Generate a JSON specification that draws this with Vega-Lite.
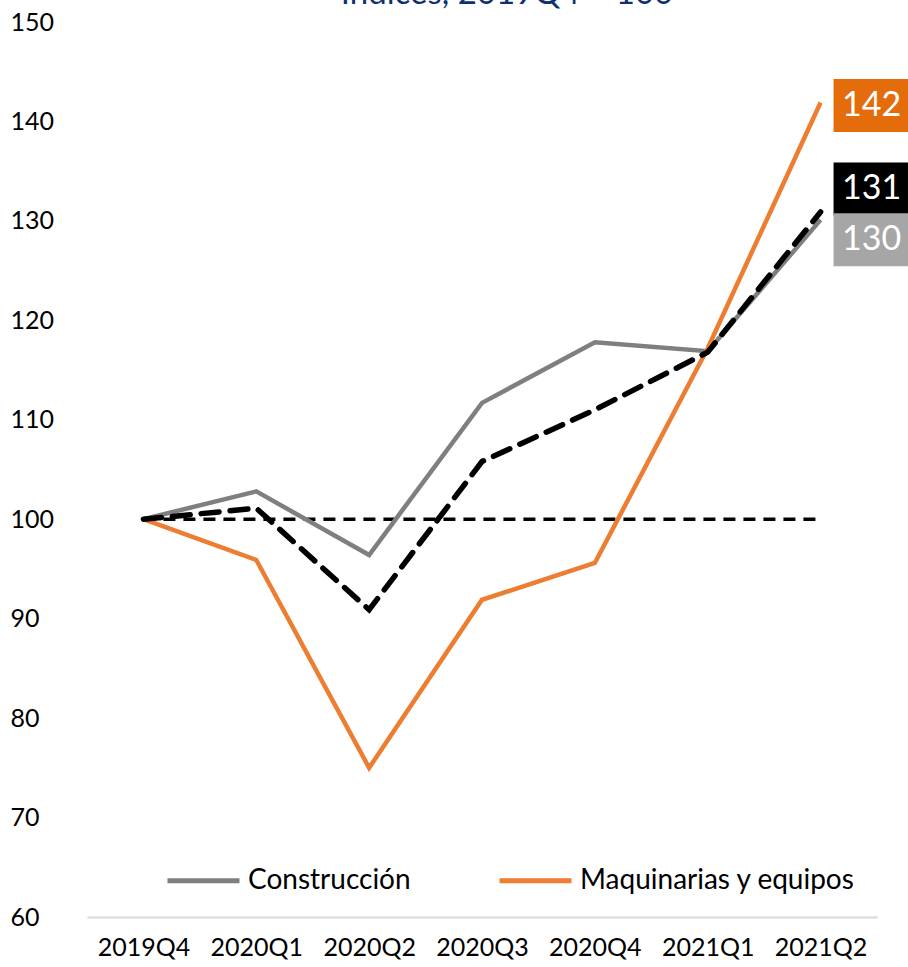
{
  "$schema": "https://vega.github.io/schema/vega-lite/v6.json",
  "width": 790,
  "height": 895,
  "autosize": {"type": "none"},
  "padding": {"left": 87, "top": 22, "right": 31, "bottom": 50},
  "background": "white",
  "config": {"view": {"stroke": null}, "font": "Lato"},
  "title": {"text": "Índices, 2019Q4 = 100", "fontSize": 33, "font": "Lato", "fontWeight": "normal", "color": "#10306e", "anchor": "middle", "dx": 25, "offset": 0, "dy": 27, "baseline": "alphabetic"},
  "datasets": {
    "series": [
      {"q": "2019Q4", "serie": "Construcción", "v": 100},
      {"q": "2020Q1", "serie": "Construcción", "v": 102.8},
      {"q": "2020Q2", "serie": "Construcción", "v": 96.4},
      {"q": "2020Q3", "serie": "Construcción", "v": 111.7},
      {"q": "2020Q4", "serie": "Construcción", "v": 117.8},
      {"q": "2021Q1", "serie": "Construcción", "v": 116.9},
      {"q": "2021Q2", "serie": "Construcción", "v": 130.1},
      {"q": "2019Q4", "serie": "Maquinarias y equipos", "v": 100},
      {"q": "2020Q1", "serie": "Maquinarias y equipos", "v": 95.9},
      {"q": "2020Q2", "serie": "Maquinarias y equipos", "v": 75},
      {"q": "2020Q3", "serie": "Maquinarias y equipos", "v": 91.9},
      {"q": "2020Q4", "serie": "Maquinarias y equipos", "v": 95.6},
      {"q": "2021Q1", "serie": "Maquinarias y equipos", "v": 117.2},
      {"q": "2021Q2", "serie": "Maquinarias y equipos", "v": 141.9}
    ],
    "total": [
      {"q": "2019Q4", "v": 100},
      {"q": "2020Q1", "v": 101.1},
      {"q": "2020Q2", "v": 90.9},
      {"q": "2020Q3", "v": 105.8},
      {"q": "2020Q4", "v": 111.0},
      {"q": "2021Q1", "v": 116.8},
      {"q": "2021Q2", "v": 130.9}
    ],
    "base": [
      {"q": "2019Q4", "v": 100},
      {"q": "2021Q2", "v": 100}
    ],
    "labels": [
      {"q": "2021Q2", "serie": "Maquinarias y equipos", "pos": 141.6, "label": "142"},
      {"q": "2021Q2", "serie": "Total", "pos": 133.2, "label": "131"},
      {"q": "2021Q2", "serie": "Construcción", "pos": 128.1, "label": "130"}
    ]
  },
  "encoding": {
    "x": {
      "field": "q", "type": "ordinal",
      "scale": {"type": "point", "padding": 0.5, "domain": ["2019Q4", "2020Q1", "2020Q2", "2020Q3", "2020Q4", "2021Q1", "2021Q2"]},
      "axis": {"title": null, "labelAngle": 0, "labelFontSize": 25, "labelColor": "#000000", "labelPadding": 18, "ticks": false, "domainColor": "#D9D9D9", "domainWidth": 2, "grid": false, "labelFont": "Lato"}
    }
  },
  "layer": [
    {
      "data": {"name": "base"},
      "mark": {"type": "line", "color": "#000000", "strokeWidth": 3.5, "strokeDash": [12, 8]},
      "encoding": {
        "y": {"field": "v", "type": "quantitative", "scale": {"domain": [60, 150], "nice": false, "zero": false},
          "axis": {"title": null, "values": [60, 70, 80, 90, 100, 110, 120, 130, 140, 150], "domain": false, "ticks": false, "grid": false, "labelAlign": "left", "labelPadding": 77, "labelFontSize": 25, "labelColor": "#000000", "labelFont": "Lato"}}
      }
    },
    {
      "data": {"name": "series"},
      "mark": {"type": "line", "strokeWidth": 4.5},
      "encoding": {
        "y": {"field": "v", "type": "quantitative"},
        "color": {"field": "serie", "type": "nominal",
          "scale": {"domain": ["Construcción", "Maquinarias y equipos"], "range": ["#7F7F7F", "#ED7D31"]},
          "legend": {"title": null, "orient": "none", "legendX": 78, "legendY": 820, "direction": "horizontal", "symbolType": "stroke", "symbolSize": 5184, "symbolStrokeWidth": 5, "labelFontSize": 28, "labelLimit": 0, "labelColor": "#000000", "labelOffset": 6, "columnPadding": 78, "labelFont": "Lato"}
        }
      }
    },
    {
      "data": {"name": "total"},
      "mark": {"type": "line", "color": "#000000", "strokeWidth": 5.5, "strokeDash": [18, 11], "strokeCap": "round"},
      "encoding": {"y": {"field": "v", "type": "quantitative"}}
    },
    {
      "data": {"name": "labels"},
      "mark": {"type": "point", "filled": true, "opacity": 1, "shape": "M0.49,-1H3.7V1H0.49Z", "size": 2809, "strokeWidth": 0},
      "encoding": {
        "y": {"field": "pos", "type": "quantitative"},
        "fill": {"field": "serie", "type": "nominal", "scale": {"domain": ["Maquinarias y equipos", "Total", "Construcción"], "range": ["#E46C0A", "#000000", "#A6A6A6"]}, "legend": null}
      }
    },
    {
      "data": {"name": "labels"},
      "mark": {"type": "text", "color": "#FFFFFF", "fontSize": 34, "align": "center", "baseline": "middle", "dx": 51, "font": "Lato"},
      "encoding": {
        "y": {"field": "pos", "type": "quantitative"},
        "text": {"field": "label"}
      }
    }
  ]
}
